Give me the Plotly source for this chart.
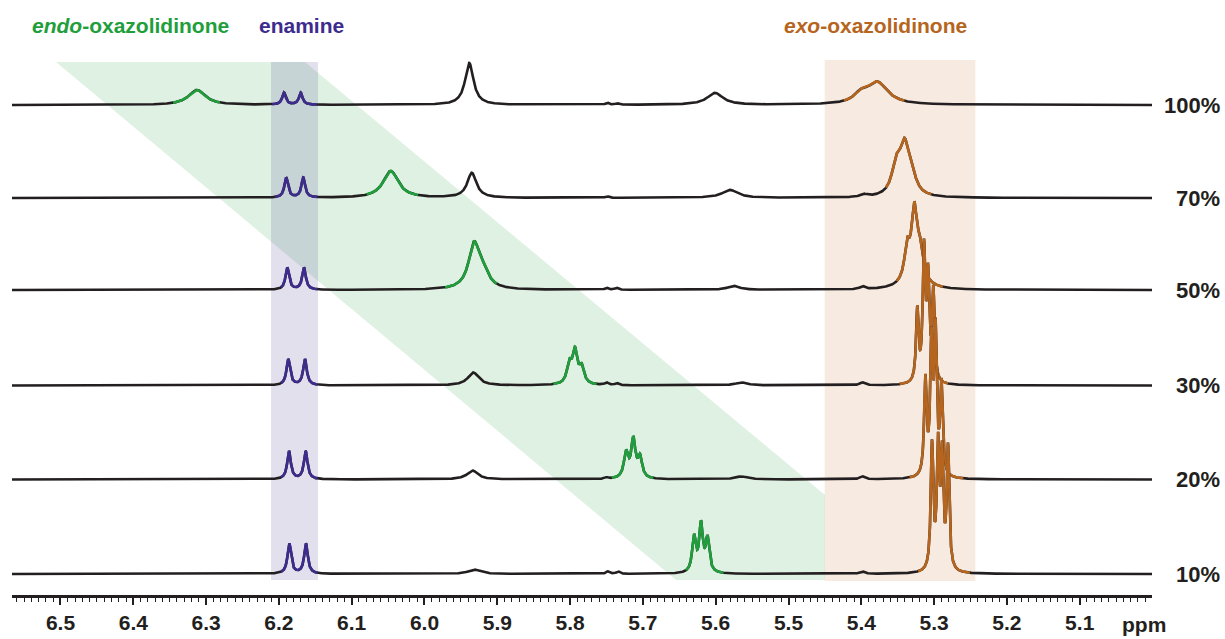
import numpy as np
import plotly.graph_objects as go

# Stacked 1H NMR spectra (vinyl region) at decreasing concentration
LEVELS = ["100%", "70%", "50%", "30%", "20%", "10%"]
BASELINES = [490, 397, 305, 209.5, 115.5, 21]          # stack offset of each trace (intensity units)

# peaks as (shift / ppm, height, line width / ppm)
ENDO_PEAKS = [
    [(6.3125, 15, 0.028)],
    [(6.0464, 27, 0.025)],
    [(5.9320, 43, 0.018), (5.9200, 14, 0.020)],
    [(5.8010, 19, 0.008), (5.7933, 32, 0.008), (5.7841, 16, 0.008)],
    [(5.7232, 25, 0.007), (5.7132, 38, 0.007), (5.7040, 20, 0.007)],
    [(5.6298, 35, 0.006), (5.6202, 47, 0.006), (5.6113, 33, 0.006)],
]
ENAMINE_PEAKS = [
    [(6.1930, 12, 0.006), (6.1700, 12, 0.006)],
    [(6.1900, 20, 0.006), (6.1665, 20, 0.006)],
    [(6.1885, 22, 0.006), (6.1655, 22, 0.006)],
    [(6.1871, 26, 0.006), (6.1642, 26, 0.006)],
    [(6.1861, 28, 0.006), (6.1632, 28, 0.006)],
    [(6.1857, 30, 0.006), (6.1628, 30, 0.006)],
]
EXO_PEAKS = [
    [(5.3780, 22, 0.035), (5.4008, 8, 0.022)],
    [(5.3407, 48, 0.016), (5.3523, 26, 0.014), (5.3310, 15, 0.014)],
    [(5.3270, 30, 0.022), (5.3373, 28, 0.008), (5.3272, 50, 0.008), (5.3194, 22, 0.008)],
    [(5.3231, 72, 0.004), (5.3139, 130, 0.004), (5.3084, 100, 0.004), (5.3011, 90, 0.004)],
    [(5.3120, 95, 0.004), (5.3036, 130, 0.004), (5.2981, 140, 0.004), (5.2900, 90, 0.004)],
    [(5.3029, 125, 0.004), (5.2946, 120, 0.004), (5.2891, 110, 0.004), (5.2809, 122, 0.004)],
]
OTHER_PEAKS = [
    [(5.9385, 42, 0.014), (5.6010, 12, 0.026), (5.7490, 2, 0.006), (5.7350, 1.5, 0.006)],
    [(5.9350, 25, 0.015), (5.5804, 8, 0.026), (5.7490, 1.5, 0.006), (5.3963, 2.5, 0.010)],
    [(5.7500, 2, 0.006), (5.7360, 2, 0.006), (5.5750, 4, 0.020), (5.3985, 3, 0.008)],
    [(5.9330, 13, 0.018), (5.7500, 2.5, 0.006), (5.7360, 2, 0.006), (5.5650, 3, 0.020), (5.3985, 3, 0.008)],
    [(5.9340, 9, 0.018), (5.7500, 1.5, 0.006), (5.5650, 3, 0.020), (5.3985, 3, 0.008)],
    [(5.9320, 4.5, 0.020), (5.7480, 2.5, 0.006), (5.7340, 2.5, 0.006), (5.3985, 2.5, 0.008)],
]

# highlighted ranges (ppm, high -> low) for each trace
ENDO_WINDOWS = [(6.3455, 6.2809), (6.0794, 6.0089), (5.9718, 5.9008),
                (5.8231, 5.7635), (5.7429, 5.6857), (5.6410, 5.5893)]
ENAMINE_WINDOWS = [(6.2095, 6.1477), (6.2050, 6.1470), (6.1970, 6.1470),
                   (6.1970, 6.1470), (6.1970, 6.1470), (6.1970, 6.1470)]
EXO_WINDOWS = [(5.4238, 5.3407), (5.3661, 5.3037), (5.3514, 5.2878),
               (5.3477, 5.2809), (5.3338, 5.2599), (5.3221, 5.2507)]

TICKS = [6.5, 6.4, 6.3, 6.2, 6.1, 6.0, 5.9, 5.8, 5.7, 5.6, 5.5, 5.4, 5.3, 5.2, 5.1]

BLACK = "#231f20"
GREEN = "#1f9e3c"
PURPLE = "#3d2b8e"
ORANGE = "#b5651d"
FONT = "Liberation Sans Narrow, Arial Narrow, Liberation Sans, Arial, sans-serif"

X_LEFT, X_RIGHT = 6.5666, 5.0007
ppm = np.linspace(X_LEFT, X_RIGHT, 7000)


def lorentz(x, peaks):
    y = np.zeros_like(x)
    for c, h, w in peaks:
        y += h / (1.0 + ((x - c) / (w / 2.0)) ** 2)
    return y


fig = go.Figure()

for i, level in enumerate(LEVELS):
    peaks = ENDO_PEAKS[i] + ENAMINE_PEAKS[i] + EXO_PEAKS[i] + OTHER_PEAKS[i]
    y = BASELINES[i] + lorentz(ppm, peaks)
    fig.add_trace(go.Scatter(x=ppm, y=y, mode="lines", hoverinfo="skip",
                             line=dict(color=BLACK, width=2.6), showlegend=False))
    for (hi, lo), col in ((ENDO_WINDOWS[i], GREEN), (ENAMINE_WINDOWS[i], PURPLE),
                          (EXO_WINDOWS[i], ORANGE)):
        m = (ppm <= hi) & (ppm >= lo)
        fig.add_trace(go.Scatter(x=ppm[m], y=y[m], mode="lines", hoverinfo="skip",
                                 line=dict(color=col, width=2.6), showlegend=False))
    fig.add_annotation(x=(1222 - 12) / 1140, xref="paper", y=BASELINES[i], yref="y",
                       text=level, showarrow=False, xanchor="right", yanchor="middle",
                       font=dict(family=FONT, size=22, color=BLACK, weight="bold"))

# shaded bands behind the spectra
shapes = [
    dict(type="path", xref="x", yref="y", layer="below", line=dict(width=0),
         fillcolor="rgba(40,160,70,0.15)",
         path="M 6.5062,533 L 6.1642,533 L 5.4499,100 L 5.4499,15 L 5.6545,15 Z"),
    dict(type="rect", xref="x", yref="y", layer="below", line=dict(width=0),
         fillcolor="rgba(70,50,140,0.15)", x0=6.2108, x1=6.1463, y0=15, y1=533),
    dict(type="rect", xref="x", yref="y", layer="below", line=dict(width=0),
         fillcolor="rgba(205,125,65,0.16)", x0=5.4503, x1=5.2433, y0=14, y1=535),
]

labels = [
    (6.4045, "<i>endo</i>-oxazolidinone", GREEN),
    (6.1683, "enamine", PURPLE),
    (5.3811, "<i>exo</i>-oxazolidinone", ORANGE),
]
for x, t, col in labels:
    fig.add_annotation(x=x, y=570, xref="x", yref="y", text=t, showarrow=False,
                       xanchor="center", yanchor="middle",
                       font=dict(family=FONT, size=21, color=col, weight="bold"))

fig.add_annotation(x=(1144 - 12) / 1140, xref="paper", y=-(624 - 595) / 595, yref="paper",
                   text="ppm", showarrow=False, xanchor="center", yanchor="middle",
                   font=dict(family=FONT, size=21, color=BLACK, weight="bold"))

fig.update_layout(
    width=1225, height=639,
    margin=dict(l=12, r=73, t=0, b=44),
    paper_bgcolor="white", plot_bgcolor="white",
    shapes=shapes,
    xaxis=dict(range=[X_LEFT, X_RIGHT], showgrid=False, zeroline=False,
               showline=True, linecolor=BLACK, linewidth=2.5,
               tickmode="array", tickvals=TICKS, ticktext=[f"{t:.1f}" for t in TICKS],
               ticks="outside", ticklen=7, tickwidth=2, tickcolor=BLACK,
               minor=dict(tickmode="linear", tick0=5.0, dtick=0.01, ticks="outside",
                          ticklen=4, tickwidth=1.3, tickcolor=BLACK),
               tickfont=dict(family=FONT, size=21, color=BLACK, weight="bold")),
    yaxis=dict(range=[0, 595], visible=False, fixedrange=True),
)

fig.write_html("out.html")
